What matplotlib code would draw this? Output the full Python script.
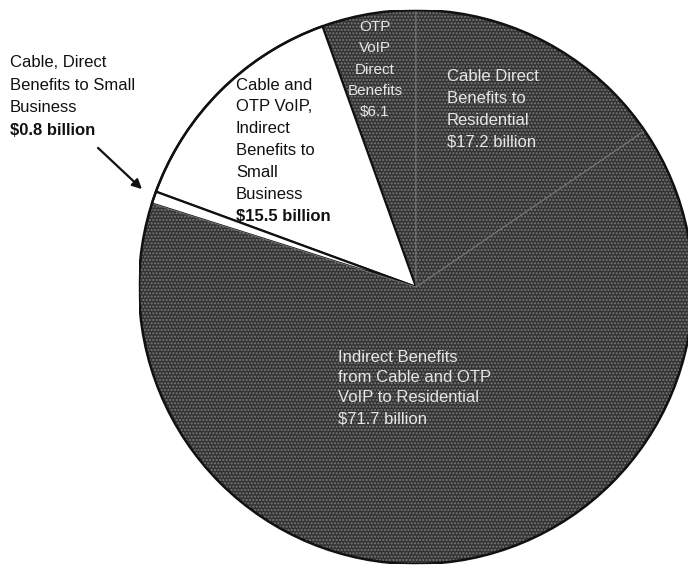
import matplotlib
matplotlib.use("Agg")
import matplotlib.pyplot as plt
from matplotlib.patches import Circle

plt.rcParams['font.family'] = ['Liberation Sans', 'DejaVu Sans']

# Data (billions of dollars), counter-clockwise from 12 o'clock
categories = [
    "OTP VoIP Direct Benefits",
    "Cable and OTP VoIP, Indirect Benefits to Small Business",
    "Cable, Direct Benefits to Small Business",
    "Indirect Benefits from Cable and OTP VoIP to Residential",
    "Cable Direct Benefits to Residential",
]
values = [6.1, 15.5, 0.8, 71.7, 17.2]
colors = ["#333333", "#ffffff", "#ffffff", "#333333", "#333333"]

W, H = 688, 573
fig = plt.figure(figsize=(W / 100, H / 100), dpi=100)
cx, cy, R = 416, 287, 277
ax = fig.add_axes([(cx - R) / W, (H - cy - R) / H, 2 * R / W, 2 * R / H])

wedges, _ = ax.pie(values, colors=colors, startangle=90, counterclock=True,
                   radius=1.0, wedgeprops=dict(edgecolor="#111111", linewidth=1.6))
ax.set_xlim(-1, 1)
ax.set_ylim(-1, 1)
ax.set_aspect('equal')
ax.axis('off')
for w, c in zip(wedges, colors):
    if c != "#ffffff":
        w.set_hatch('.....')
        w.set_edgecolor('#7a7a7a')
        w.set_linewidth(0.6)
ax.add_patch(Circle((0, 0), 1.0, fill=False, edgecolor='#111111', linewidth=1.8))


def P(px, py):
    return (px - cx) / R, (cy - py) / R


def lines(px, ys, texts, fs, color, ha='left', bold_last=False):
    for i, (y, t) in enumerate(zip(ys, texts)):
        bold = bold_last and i == len(texts) - 1
        ax.text(*P(px, y), t, ha=ha, va='center', fontsize=fs, color=color,
                fontweight='bold' if bold else 'normal', clip_on=False)


dark_txt = '#111111'
light_txt = '#e6e6e6'

# Left annotation
lines(10, [62, 85, 107, 130],
      ["Cable, Direct", "Benefits to Small", "Business", "$0.8 billion"],
      12, dark_txt, bold_last=True)
ax.annotate("", xy=P(144, 191), xytext=P(96, 146),
            arrowprops=dict(arrowstyle='-|>', color='#111111', lw=1.6,
                            mutation_scale=14), annotation_clip=False)

# White slice label
lines(236, [85, 106, 128, 150, 172, 194, 216],
      ["Cable and", "OTP VoIP,", "Indirect", "Benefits to", "Small", "Business",
       "$15.5 billion"], 12, dark_txt, bold_last=True)

# Dark slice labels
lines(375, [27, 48, 70, 91, 112],
      ["OTP", "VoIP", "Direct", "Benefits", "$6.1"], 11, light_txt, ha='center')
lines(447, [76, 98, 120, 142],
      ["Cable Direct", "Benefits to", "Residential", "$17.2 billion"], 12, light_txt)
lines(338, [357, 378, 398, 419],
      ["Indirect Benefits", "from Cable and OTP", "VoIP to Residential",
       "$71.7 billion"], 12, light_txt)

fig.savefig("out.png", dpi=100, facecolor='white')
